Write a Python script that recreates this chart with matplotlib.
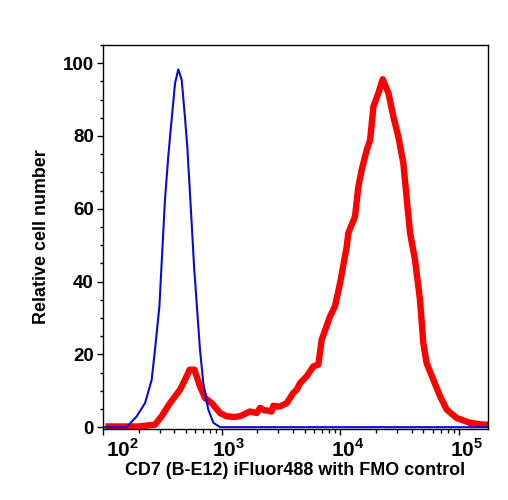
import numpy as np
import matplotlib
matplotlib.use('Agg')
import matplotlib.pyplot as plt
import matplotlib.transforms as mtransforms
from matplotlib.ticker import FixedLocator, MultipleLocator

plt.rcParams['font.family'] = 'Liberation Sans'
plt.rcParams['font.weight'] = 'bold'
plt.rcParams['mathtext.fontset'] = 'custom'
plt.rcParams['mathtext.rm'] = 'Liberation Sans:bold'
plt.rcParams['mathtext.bf'] = 'Liberation Sans:bold'

# FMO control (blue), log10 of fluorescence vs relative cell number
fmo_log = [2.0, 2.2, 2.284, 2.354, 2.41, 2.438, 2.475, 2.494, 2.522, 2.55, 2.57,
           2.607, 2.634, 2.663, 2.69, 2.71, 2.739, 2.767, 2.789, 2.817, 2.845,
           2.887, 2.93, 2.986, 5.25]
fmo_val = [0.0, 0.0, 3.0, 6.6, 13.0, 21.3, 33.2, 45.0, 62.5, 74.4, 81.7,
           94.5, 98.3, 95.4, 85.3, 77.1, 60.6, 44.2, 34.1, 21.3, 12.1,
           4.8, 1.2, 0.0, 0.0]

# CD7 stained (red)
cd7_log = [2.02, 2.3, 2.438, 2.494, 2.564, 2.649, 2.705, 2.73, 2.77, 2.817, 2.86,
           2.916, 2.986, 3.04, 3.1, 3.154, 3.238, 3.295, 3.323, 3.36, 3.379,
           3.42, 3.435, 3.463, 3.491, 3.547, 3.603, 3.632, 3.66, 3.716, 3.772,
           3.814, 3.842, 3.912, 3.954, 3.997, 4.053, 4.066, 4.123, 4.151, 4.179,
           4.222, 4.25, 4.278, 4.32, 4.356, 4.404, 4.446, 4.488, 4.53, 4.559,
           4.587, 4.628, 4.67, 4.698, 4.726, 4.783, 4.839, 4.896, 4.98, 5.09,
           5.2, 5.25]
cd7_val = [0.2, 0.2, 0.7, 3.0, 6.6, 10.3, 14.0, 15.8, 15.8, 11.2, 8.0,
           6.6, 3.9, 3.0, 2.8, 3.0, 4.3, 3.9, 5.3, 4.6, 4.6,
           4.3, 5.9, 5.7, 5.7, 6.6, 9.4, 10.3, 12.1, 14.0, 16.7,
           17.2, 24.0, 30.4, 33.2, 39.6, 49.6, 53.3, 57.9, 66.1, 70.7,
           76.2, 78.9, 88.1, 91.8, 95.6, 91.8, 85.3, 79.8, 72.5, 62.5,
           53.3, 46.0, 35.0, 23.1, 17.6, 13.0, 8.5, 4.8, 2.5, 1.2,
           0.7, 0.7]

xticks = [1e2, 1e3, 1e4, 1e5]
xticklabels = [r'$10^{2}$', r'$10^{3}$', r'$10^{4}$', r'$10^{5}$']
yticks = [0, 20, 40, 60, 80, 100]

fig = plt.figure(figsize=(5.08, 5.0), dpi=100)
ax = fig.add_axes([103 / 508, 1 - 429 / 500, 385 / 508, 384 / 500])

ax.plot(10 ** np.array(cd7_log), cd7_val, color='#ff0000', lw=4.6,
        solid_joinstyle='round', solid_capstyle='butt')
ax.plot(10 ** np.array(fmo_log), fmo_val, color='#0a0ad2', lw=1.5)

ax.set_xscale('log')
ax.set_xlim(100, 10 ** 5.243)
ax.set_ylim(-0.5, 105)

ax.set_xticks(xticks)
ax.set_xticklabels(xticklabels, fontsize=15)
minors = [m * 10 ** e for e in range(2, 6) for m in range(2, 10) if m * 10 ** e < 10 ** 5.243]
ax.xaxis.set_minor_locator(FixedLocator(minors))
ax.xaxis.set_minor_formatter(plt.NullFormatter())

ax.set_yticks(yticks)
ax.set_yticklabels([str(v) for v in yticks], fontsize=13.5)
ax.yaxis.set_minor_locator(MultipleLocator(5))

ax.tick_params(axis='both', which='major', direction='out', length=4.5, width=1, pad=2)
ax.tick_params(axis='x', which='minor', direction='out', length=3, width=1)
ax.tick_params(axis='y', which='minor', direction='out', length=2.2, width=1)

# shift the x labels right like the original, first one further off the y axis
off = mtransforms.ScaledTranslation(14 / 72, 0, fig.dpi_scale_trans)
lbl = ax.get_xticklabels()[0]
lbl.set_transform(lbl.get_transform() + off)
off2 = mtransforms.ScaledTranslation(5 / 72, 0, fig.dpi_scale_trans)
for lbl in ax.get_xticklabels()[1:]:
    lbl.set_transform(lbl.get_transform() + off2)

for s in ax.spines.values():
    s.set_linewidth(1)

ax.set_xlabel('CD7 (B-E12) iFluor488 with FMO control', fontsize=12.9, fontweight='bold', labelpad=1)
ax.set_ylabel('Relative cell number', fontsize=12.9, fontweight='bold', labelpad=9)

fig.savefig('out.png', dpi=100)
